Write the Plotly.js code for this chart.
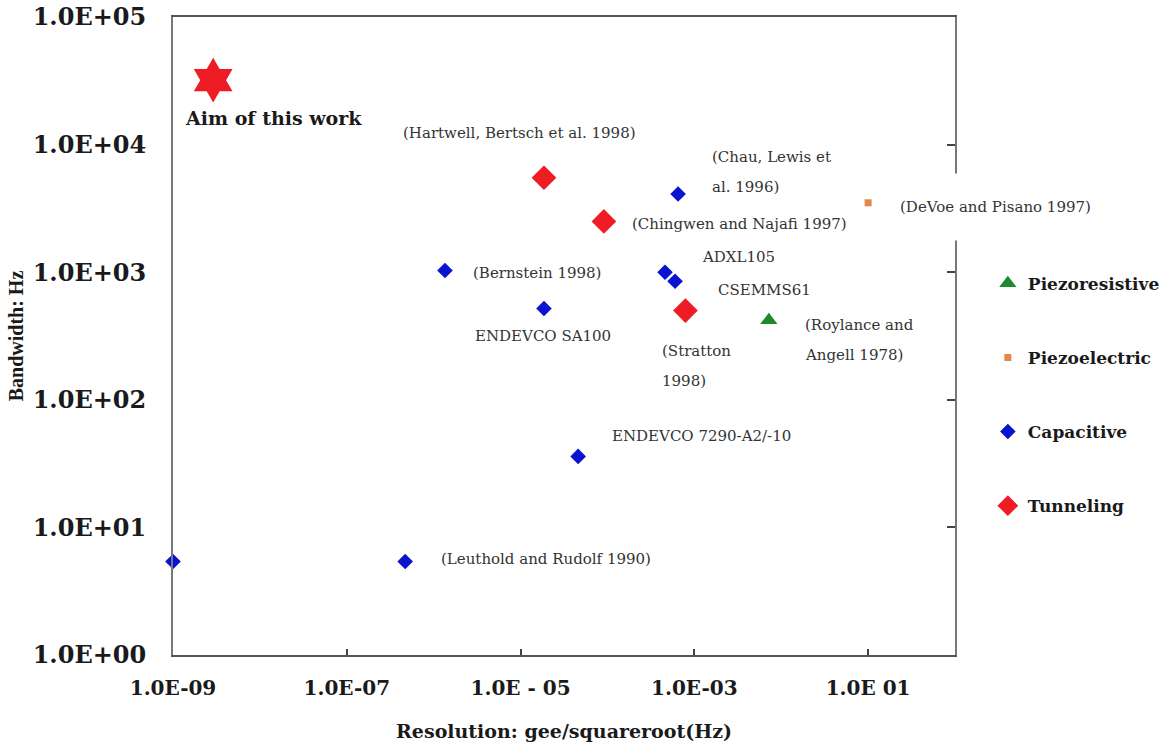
<!DOCTYPE html>
<html>
<head>
<meta charset="utf-8">
<script src="https://cdn.plot.ly/plotly-3.0.1.min.js"></script>
<style>html,body{margin:0;padding:0;background:#fff;}#chart{width:1176px;height:749px;}</style>
</head>
<body>
<div id="chart"></div>
<script>
// ---- data ----
const aimX = [2.9e-9];
const aimY = [3.2e4];
const aimLabels = ["Aim of this work"];

const piezoresistiveX = [7.2e-3];
const piezoresistiveY = [420];
const piezoresistiveLabels = ["(Roylance and|Angell 1978)"];

const piezoelectricX = [1.0e-1];
const piezoelectricY = [3.5e3];
const piezoelectricLabels = ["(DeVoe and Pisano 1997)"];

const capacitiveX = [6.5e-4, 1.35e-6, 4.6e-4, 6.0e-4, 1.86e-5, 4.6e-5, 4.7e-7, 1.0e-9];
const capacitiveY = [4.1e3, 1.03e3, 1.0e3, 850, 520, 36, 5.4, 5.4];
const capacitiveLabels = ["(Chau, Lewis et|al. 1996)", "(Bernstein 1998)", "ADXL105", "CSEMMS61",
                          "ENDEVCO SA100", "ENDEVCO 7290-A2/-10", "(Leuthold and Rudolf 1990)", ""];

const tunnelingX = [1.86e-5, 9.1e-5, 7.9e-4];
const tunnelingY = [5.5e3, 2.5e3, 500];
const tunnelingLabels = ["(Hartwell, Bertsch et al. 1998)", "(Chingwen and Najafi 1997)", "(Stratton|1998)"];

const xTickVals = [1e-9, 1e-7, 1e-5, 1e-3, 1e-1];
const xTickText = ["1.0E-09", "1.0E-07", "1.0E - 05", "1.0E-03", "1.0E 01"];
const yTickVals = [1, 10, 100, 1000, 10000, 100000];
const yTickText = ["1.0E+00", "1.0E+01", "1.0E+02", "1.0E+03", "1.0E+04", "1.0E+05"];

// ---- label placement styles (pixel offsets relative to each point) ----
const labelStyle = {
  "Aim of this work": {xanchor: "left", dx: -30, dy: -38, bold: true, size: 19},
  "(Hartwell, Bertsch et al. 1998)": {xanchor: "center", dx: -24, dy: 45},
  "(Chau, Lewis et|al. 1996)": {xanchor: "left", dx: 32, dy: 37},
  "(DeVoe and Pisano 1997)": {xanchor: "left", dx: 30, dy: 2, bg: true},
  "(Chingwen and Najafi 1997)": {xanchor: "left", dx: 26, dy: -3},
  "ADXL105": {xanchor: "left", dx: 35, dy: 15},
  "(Bernstein 1998)": {xanchor: "left", dx: 26, dy: -2},
  "CSEMMS61": {xanchor: "left", dx: 41, dy: -9},
  "ENDEVCO SA100": {xanchor: "left", dx: -71, dy: -28},
  "(Roylance and|Angell 1978)": {xanchor: "left", dx: 34, dy: -5},
  "(Stratton|1998)": {xanchor: "left", dx: -25, dy: -40},
  "ENDEVCO 7290-A2/-10": {xanchor: "left", dx: 32, dy: 20},
  "(Leuthold and Rudolf 1990)": {xanchor: "left", dx: 34, dy: 3}
};

const serif = "Liberation Serif, Times New Roman, serif";
const wide = "DejaVu Serif, serif";
const annotations = [];
function addLabels(xs, ys, labels) {
  labels.forEach((lab, i) => {
    if (!lab) return;
    const st = labelStyle[lab] || {xanchor: "left", dx: 20, dy: 0};
    lab.split("|").forEach((line, k) => {
      const a = {
        x: Math.log10(xs[i]), y: Math.log10(ys[i]), xref: "x", yref: "y",
        text: st.bold ? "<b>" + line + "</b>" : line,
        showarrow: false, xanchor: st.xanchor, yanchor: "middle",
        xshift: st.dx, yshift: st.dy - k * 30,
        font: {family: wide, size: st.size || 15, color: st.bold ? "#1a1a1a" : "#333"}
      };
      if (st.bg) { a.bgcolor = "#ffffff"; a.height = 64; a.yshift = st.dy - 6; a.valign = "middle"; }
      annotations.push(a);
    });
  });
}
addLabels(aimX, aimY, aimLabels);
addLabels(tunnelingX, tunnelingY, tunnelingLabels);
addLabels(capacitiveX, capacitiveY, capacitiveLabels);
addLabels(piezoelectricX, piezoelectricY, piezoelectricLabels);
addLabels(piezoresistiveX, piezoresistiveY, piezoresistiveLabels);

const traces = [
  {x: piezoresistiveX, y: piezoresistiveY, mode: "markers", type: "scatter", name: "Piezoresistive",
   legendgroup: "a", marker: {symbol: "triangle-up", size: 15, color: "#1e8a2e"}},
  {x: piezoelectricX, y: piezoelectricY, mode: "markers", type: "scatter", name: "Piezoelectric",
   legendgroup: "b", marker: {symbol: "square", size: 7, color: "#e0894a"}},
  {x: capacitiveX, y: capacitiveY, mode: "markers", type: "scatter", name: "Capacitive",
   legendgroup: "c", cliponaxis: false, marker: {symbol: "diamond", size: 12, color: "#0a14d0"}},
  {x: tunnelingX, y: tunnelingY, mode: "markers", type: "scatter", name: "Tunneling",
   legendgroup: "d", marker: {symbol: "diamond", size: 19, color: "#ee1c25"}},
  {x: aimX, y: aimY, mode: "markers", type: "scatter", name: "Aim of this work", showlegend: false,
   yaxis: "y2", marker: {symbol: "hexagram", size: 34, color: "#ee1c25"}}
];

const layout = {
  width: 1176, height: 749,
  margin: {l: 173, r: 221, t: 17, b: 94, autoexpand: false},
  paper_bgcolor: "#ffffff", plot_bgcolor: "#ffffff",
  font: {family: serif, color: "#1a1a1a"},
  showlegend: true,
  legend: {x: 1.042, y: 0.61, xanchor: "left", yanchor: "top", traceorder: "grouped",
           tracegroupgap: 49, bgcolor: "rgba(0,0,0,0)",
           font: {family: wide, size: 17, color: "#1a1a1a", weight: "bold"}},
  xaxis: {type: "log", range: [-9, 0], tickvals: xTickVals, ticktext: xTickText,
          ticks: "inside", ticklen: 6, tickwidth: 2, tickcolor: "#444",
          showgrid: false, zeroline: false, showline: true, linecolor: "#555", linewidth: 2, mirror: true,
          ticklabelstandoff: 14,
          tickfont: {family: wide, size: 20, color: "#1a1a1a", weight: "bold"},
          title: {text: "<b>Resolution: gee/squareroot(Hz)</b>", standoff: 26,
                  font: {family: wide, size: 19, color: "#1a1a1a"}}},
  yaxis: {type: "log", range: [0, 5], tickvals: yTickVals, ticktext: yTickText,
          ticks: "", showgrid: false, zeroline: false, showline: true, linecolor: "#777", linewidth: 2,
          mirror: true, ticklabelstandoff: 20,
          tickfont: {family: wide, size: 24, color: "#1a1a1a", weight: "bold"},
          title: {text: "<b>Bandwidth: Hz</b>", standoff: 4,
                  font: {family: serif, size: 20, color: "#1a1a1a"}}},
  yaxis2: {type: "log", range: [0, 5], overlaying: "y", side: "right", anchor: "x",
           tickvals: yTickVals, showticklabels: false, ticks: "inside", ticklen: 8, tickwidth: 2,
           tickcolor: "#444", showgrid: false, zeroline: false, showline: false},
  annotations: annotations
};

Plotly.newPlot("chart", traces, layout, {displayModeBar: false, staticPlot: true});
</script>
</body>
</html>
